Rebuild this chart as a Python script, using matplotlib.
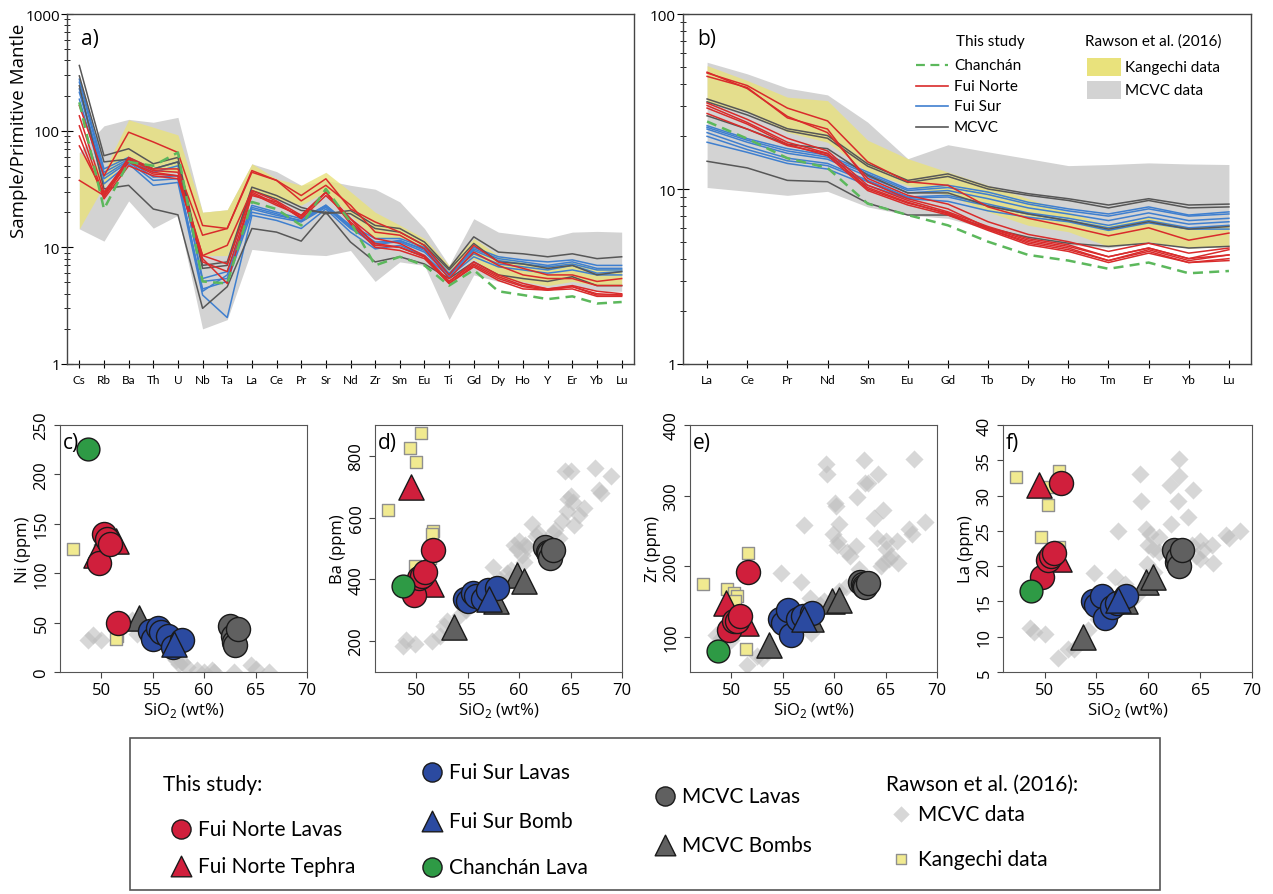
import numpy as np
import matplotlib
matplotlib.use("Agg")
import matplotlib.pyplot as plt
from matplotlib.patches import Rectangle

plt.rcParams['font.family'] = ['Open Sans', 'DejaVu Sans']
plt.rcParams['mathtext.fontset'] = 'custom'
plt.rcParams['mathtext.rm'] = 'Open Sans'

# ---------------- spider diagram a) primitive mantle normalised ----------------
pm_elems = ['Cs', 'Rb', 'Ba', 'Th', 'U', 'Nb', 'Ta', 'La', 'Ce', 'Pr', 'Sr', 'Nd',
            'Zr', 'Sm', 'Eu', 'Ti', 'Gd', 'Dy', 'Ho', 'Y', 'Er', 'Yb', 'Lu']

pm_mcvc_hi = [65, 110, 125, 118, 130, 20, 21, 52, 44.6, 34, 37.5, 34, 31.5, 24.5, 14.5, 7, 17.6, 13.5, 12.7, 12, 13.5, 13.7, 13.5]
pm_mcvc_lo = [14.4, 11.3, 25, 14.6, 18.8, 2, 2.4, 9.6, 9.1, 8.7, 8.5, 9.4, 5.1, 7.5, 7, 2.4, 5.8, 5.1, 4.7, 4.4, 4.7, 4.2, 4.2]
pm_kan_hi = [65, 45, 124, 107, 92, 20, 21, 52, 38.7, 34, 44, 30, 20, 15.5, 11.9, 7, 11.9, 8.5, 7.5, 7, 7.5, 6.6, 6.6]
pm_kan_lo = [14.4, 34, 61, 44, 44, 8.5, 8.5, 30, 26, 23, 30, 18.8, 11.9, 11.9, 9.7, 6.2, 8, 5.4, 5.1, 4.7, 5.1, 4.7, 4.7]

pm_chanchan = [175, 21.3, 54, 50, 65, 5.1, 4.9, 24.5, 21.3, 15.4, 31.7, 16.5, 7, 8.3, 7, 4.7, 6.4, 4.2, 3.9, 3.6, 3.8, 3.3, 3.4]

pm_norte = [
    [164, 41, 97, 80, 65, 15.4, 14.5, 45.5, 37.5, 27.8, 38.7, 21.3, 16.5, 13.5, 10.4, 5.8, 10.4, 7.5, 6.6, 5.8, 5.8, 5.1, 5.4],
    [37.5, 27.8, 59, 47, 47, 12.7, 14.5, 44, 37.5, 25, 34, 23, 13.5, 12.7, 9.7, 5.4, 9.1, 7, 5.8, 5.4, 5.4, 4.7, 4.7],
    [134, 29.7, 57, 45.5, 44, 8.5, 10.4, 30.7, 25, 18.8, 29.7, 17.6, 11.9, 10.8, 8.5, 5.1, 7.5, 5.8, 4.9, 4.4, 4.7, 4.2, 4.0],
    [110, 27, 54, 42.5, 41, 8.5, 7.2, 29.7, 23.6, 18.1, 29.7, 16.5, 10.8, 10, 8.3, 4.9, 7, 5.4, 4.6, 4.3, 4.6, 3.9, 3.9],
    [90, 26, 50, 41, 38.7, 8, 4.9, 28.8, 22.9, 18.8, 29.7, 15.9, 10, 9.4, 8, 4.9, 6.8, 5.2, 4.4, 4.3, 4.4, 3.8, 3.8],
    [74, 28.8, 54, 44, 41, 7.5, 6.2, 27.8, 24.5, 17.6, 27.8, 17.6, 10.4, 10, 8.3, 5.1, 7.2, 5.6, 4.7, 4.4, 4.6, 4.0, 3.9],
]
pm_sur = [
    [260, 44, 57, 44, 50, 5.4, 6.2, 22.9, 20, 17.6, 22.9, 15.4, 11.9, 11.9, 10, 6, 9.7, 8, 7.5, 7, 7.5, 6.6, 6.6],
    [213, 38.7, 54, 37.5, 38.7, 4.4, 5.1, 20, 18.1, 16.5, 22, 14.5, 10.8, 11.1, 9.1, 5.8, 8.8, 7.2, 6.8, 6.4, 7, 6, 6.2],
    [186, 35, 52, 34, 36, 3.9, 2.5, 18.8, 17, 14.5, 21.3, 13.5, 9.7, 10.4, 8.5, 5.6, 8.3, 6.8, 6.4, 6, 6.4, 5.8, 5.8],
    [228, 41, 55.5, 40, 41, 4.2, 5.8, 21.3, 18.8, 17, 22.5, 14.9, 10.4, 11.5, 9.4, 5.8, 9.4, 7.7, 7.2, 6.8, 7.2, 6.4, 6.4],
    [276, 47, 59, 47, 54, 5.1, 5.4, 22, 19.4, 16.7, 23, 15.2, 11.1, 11.3, 9.7, 5.9, 10, 8.3, 7.8, 7.5, 7.8, 7, 7],
]
pm_mcvc = [
    [362, 61, 70, 52, 59, 7, 7.5, 32.8, 27.8, 22, 19.4, 20.7, 15.4, 14.5, 11.1, 6.6, 12.3, 9.1, 8.8, 8.3, 8.8, 8, 8.3],
    [295, 54, 57, 47, 54, 6.6, 7, 30.7, 26, 20.7, 20, 19.4, 14.5, 13.5, 10.4, 6.4, 10.8, 7.5, 7.2, 6.6, 7, 5.8, 6.2],
    [243, 31.7, 34, 21.3, 19, 3, 4.6, 14.5, 13.5, 11.3, 20, 11.1, 7.5, 8.3, 7.2, 5.4, 7.5, 5.8, 5.4, 5.1, 5.6, 4.7, 4.7],
]

# ---------------- REE diagram b) ----------------
ree_elems = ['La', 'Ce', 'Pr', 'Nd', 'Sm', 'Eu', 'Gd', 'Tb', 'Dy', 'Ho', 'Tm', 'Er', 'Yb', 'Lu']

ree_mcvc_hi = [53, 45.5, 37.7, 34.5, 24.1, 14.9, 17.9, 16.3, 14.9, 13.6, 13.8, 14.1, 13.9, 13.8]
ree_mcvc_lo = [10.2, 9.7, 9.2, 9.7, 7.9, 7.1, 6.8, 5.9, 5.2, 4.8, 4.6, 5.0, 4.6, 4.7]
ree_kan_hi = [50.7, 41.7, 33.5, 32, 19, 14.9, 12.5, 10.5, 8.8, 7.4, 6.2, 6.9, 6.0, 6.3]
ree_kan_lo = [31.3, 27.5, 21.1, 18.5, 12.5, 10.5, 9.2, 7.4, 6.2, 5.7, 4.7, 5.0, 4.6, 4.7]

ree_chanchan = [24.3, 19.4, 15.0, 13.2, 8.25, 7.1, 6.2, 5.0, 4.2, 3.9, 3.5, 3.8, 3.3, 3.4]

ree_norte = [
    [46, 39, 29, 24.5, 14.3, 11, 10.5, 7.9, 6.8, 6.1, 5.4, 6.0, 5.1, 5.6],
    [46.5, 37.5, 26, 21, 11.5, 9.2, 8.2, 6.5, 5.5, 5.0, 4.4, 4.9, 4.3, 4.6],
    [44, 38, 25.5, 22, 11, 8.8, 7.7, 6.0, 5.1, 4.7, 4.1, 4.6, 4.0, 4.2],
    [31, 25, 19.5, 16.5, 10.5, 8.6, 7.4, 6.1, 5.2, 4.8, 4.1, 4.6, 4.0, 4.5],
    [30, 24, 18.5, 16, 10, 8.3, 7.3, 5.9, 5.0, 4.6, 3.9, 4.5, 3.9, 4.2],
    [29, 23.5, 18, 15.5, 9.8, 8.1, 7.1, 5.8, 4.8, 4.4, 3.8, 4.3, 3.8, 3.9],
    [27, 22, 17.7, 15.9, 10.2, 8.4, 7.2, 5.9, 4.9, 4.5, 3.9, 4.4, 3.8, 4.0],
]
ree_sur = [
    [23, 19.4, 17, 15.6, 12.5, 10, 10.5, 9.6, 8.4, 7.7, 7.2, 7.9, 7.1, 7.4],
    [22, 18.5, 16, 14.8, 11.8, 9.5, 9.8, 8.8, 7.8, 7.2, 6.6, 7.3, 6.6, 6.8],
    [21, 17.5, 15, 14, 11.2, 9.0, 9.2, 8.2, 7.3, 6.8, 6.2, 6.9, 6.3, 6.5],
    [20, 16.8, 14.5, 13.6, 11, 8.9, 9.0, 8.0, 7.2, 6.6, 6.0, 6.6, 6.0, 6.2],
    [18.5, 16.2, 14, 13, 10.5, 8.8, 8.5, 7.5, 6.9, 6.5, 5.8, 6.4, 5.9, 5.9],
    [22.5, 19, 16.5, 15.2, 12.2, 9.8, 10.2, 9.3, 8.2, 7.5, 7.0, 7.7, 7.0, 7.2],
]
ree_mcvc = [
    [32.7, 27.5, 22.1, 20.2, 13.9, 11.2, 12.2, 10.3, 9.4, 8.8, 8.1, 8.8, 8.1, 8.2],
    [31.5, 26.5, 21.5, 19.5, 13.5, 10.9, 11.8, 10.0, 9.2, 8.6, 7.8, 8.6, 7.8, 7.9],
    [26.2, 22, 18, 17, 12, 9.5, 9.5, 8, 7.2, 6.6, 5.9, 6.5, 5.9, 6.1],
    [14.4, 13.2, 11.2, 11.0, 8.3, 7.1, 7.1, 6.0, 5.3, 4.9, 4.7, 4.9, 4.6, 4.7],
]

# ---------------- Harker diagrams c)-f) : this study ----------------
fn_lava_sio2 = [49.8, 50.3, 50.6, 50.9, 51.6]
fn_lava_ni = [110, 140, 135, 130, 50]
fn_lava_ba = [350, 405, 410, 425, 495]
fn_lava_zr = [110, 122, 122, 130, 192]
fn_lava_la = [18.5, 20.8, 21.5, 21.8, 31.8]

fn_teph_sio2 = [49.5, 51.4]
fn_teph_ni = [118, 133]
fn_teph_ba = [700, 385]
fn_teph_zr = [148, 120]
fn_teph_la = [31.5, 21.0]

fs_lava_sio2 = [54.7, 55.0, 55.5, 55.8, 56.5, 57.0, 57.9]
fs_lava_ni = [42, 33, 45, 40, 36, 25, 32]
fs_lava_ba = [338, 330, 355, 345, 335, 365, 372]
fs_lava_zr = [125, 120, 138, 103, 125, 130, 133]
fs_lava_la = [15.0, 14.5, 15.8, 12.7, 14.2, 14.8, 15.8]

fs_bomb_sio2 = [57.1]
fs_bomb_ni = [28]
fs_bomb_ba = [335]
fs_bomb_zr = [125]
fs_bomb_la = [15.2]

ch_lava_sio2 = [48.7]
ch_lava_ni = [226]
ch_lava_ba = [380]
ch_lava_zr = [80]
ch_lava_la = [16.5]

mc_lava_sio2 = [62.5, 62.8, 62.9, 63.0, 63.3]
mc_lava_ni = [47, 36, 30, 27, 44]
mc_lava_ba = [505, 490, 485, 470, 495]
mc_lava_zr = [178, 175, 172, 170, 176]
mc_lava_la = [22.3, 20.6, 21.2, 20.0, 22.3]

mc_bomb_sio2 = [53.7, 57.8, 59.8, 60.5]
mc_bomb_ni = [55, np.nan, np.nan, np.nan]
mc_bomb_ba = [245, 330, 415, 395]
mc_bomb_zr = [88, 125, 150, 152]
mc_bomb_la = [10.0, 15.0, 17.8, 18.5]

# ---------------- Rawson et al. (2016) ----------------
kan_ni_x = [47.3, 51.5, 51.4, 49.9]
kan_ni_y = [125, 36, 33, 123]
kan_ba_x = [47.3, 49.4, 50.5, 50.0, 51.6, 51.5, 51.3, 49.9]
kan_ba_y = [625, 825, 875, 780, 558, 548, 470, 442]
kan_zr_x = [47.3, 49.6, 50.3, 50.6, 50.4, 51.6, 51.4]
kan_zr_y = [175, 167, 162, 158, 150, 218, 83]
kan_la_x = [47.3, 49.7, 50.3, 50.4, 51.4, 51.4]
kan_la_y = [32.6, 24.2, 28.6, 31.2, 33.5, 22.7]

raw_ni_x = [48.7, 49.2, 50.0, 53.0, 53.5, 56.8, 57.0, 57.3, 57.6, 57.9, 58.3, 59.3, 60.0, 60.8, 61.0, 62.9, 64.6, 65.0, 66.3]
raw_ni_y = [32, 37, 32, 53, 38, 18, 20, 12, 8, 10, 5, 2, 0, 2, 0, 0, 7, 3, 0]
raw_ba_x = [48.7, 49.0, 49.9, 51.5, 52.3, 52.7, 53.0, 54.3, 54.8, 55.5, 56.5, 57.3, 57.5, 58.0, 58.8, 59.0,
            59.2, 59.5, 59.8, 60.0, 60.3, 60.5, 60.6, 60.8, 61.3, 61.6, 61.8, 62.2, 63.3, 63.5, 63.9, 64.2,
            64.5, 64.7, 64.8, 65.0, 65.0, 65.2, 65.3, 65.8, 66.3, 67.4, 67.8, 68.0, 68.9]
raw_ba_y = [185, 205, 190, 200, 215, 250, 265, 285, 300, 320, 345, 380, 440, 400, 420, 400,
            430, 510, 500, 525, 480, 455, 510, 505, 580, 540, 550, 520, 550, 560, 535, 590,
            750, 620, 660, 670, 750, 650, 575, 610, 630, 760, 690, 680, 735]
raw_zr_x = [48.5, 49.0, 50.0, 51.5, 52.5, 53.0, 53.5, 54.8, 56.0, 56.8, 57.1, 57.7, 57.8, 58.2, 58.6, 59.0,
            59.2, 59.3, 59.9, 60.1, 60.2, 60.3, 60.4, 60.5, 60.5, 61.2, 61.3, 61.5, 62.1, 62.2, 62.4, 62.9,
            63.0, 63.2, 63.3, 63.9, 64.2, 64.3, 64.6, 64.8, 64.8, 65.0, 65.0, 65.3, 65.5, 66.1, 66.2, 67.3,
            67.6, 67.8, 68.8]
raw_zr_y = [102, 98, 95, 60, 72, 70, 80, 190, 120, 178, 258, 155, 105, 135, 145, 150,
            345, 330, 245, 290, 285, 230, 235, 260, 165, 170, 220, 215, 228, 298, 196, 350,
            318, 180, 318, 268, 240, 330, 200, 280, 205, 235, 225, 210, 215, 235, 205, 252,
            245, 352, 262]
raw_la_x = [48.6, 49.0, 50.0, 51.3, 52.3, 52.8, 54.2, 54.8, 55.2, 56.8, 57.1, 57.8, 58.3, 59.0, 59.2, 59.3,
            59.8, 59.9, 60.0, 60.2, 60.5, 60.6, 61.0, 61.0, 62.1, 62.2, 62.2, 62.9, 63.0, 63.0, 63.8, 64.2,
            64.3, 64.6, 65.0, 65.0, 65.3, 66.1, 66.2, 67.5, 67.8, 68.8]
raw_la_y = [11.2, 10.6, 10.4, 7.0, 8.3, 8.2, 11.0, 19.0, 12.5, 18.5, 25.0, 17.5, 15.0, 16.0, 33.0, 29.3,
            25.2, 20.3, 23.0, 24.5, 22.5, 19.2, 24.2, 22.0, 31.5, 26.0, 22.0, 29.2, 35.2, 32.8, 27.0, 23.0,
            30.8, 21.5, 23.5, 21.0, 22.3, 23.0, 20.5, 24.4, 24.0, 25.0]

# ---------------- colours ----------------
c_red_line = '#d92b2b'
c_blue_line = '#3f7fcf'
c_grey_line = '#575757'
c_green_line = '#5cb85c'
c_fill_grey = '#d3d3d3'
c_fill_yel = '#e9e27c'

c_red = '#d01f3c'
c_blue = '#2b4aa0'
c_green = '#2e9a45'
c_grey = '#606060'
c_kan = '#f1ea90'
c_raw = '#bdbdbd'

W, H = 1273, 895
fig = plt.figure(figsize=(W / 100, H / 100), dpi=100)


def px_axes(left, right, top, bottom):
    return fig.add_axes([left / W, 1 - bottom / H, (right - left) / W, (bottom - top) / H])


def spider(ax, elems, kan_hi, kan_lo, mc_hi, mc_lo, sur, mcvc, norte, chan):
    x = np.arange(len(elems))
    ax.fill_between(x, mc_lo, mc_hi, color=c_fill_grey, lw=0, zorder=1)
    ax.fill_between(x, kan_lo, kan_hi, color=c_fill_yel, alpha=0.8, lw=0, zorder=2)
    for s in sur:
        ax.plot(x, s, color=c_blue_line, lw=1.1, zorder=3)
    for s in mcvc:
        ax.plot(x, s, color=c_grey_line, lw=1.1, zorder=4)
    for s in norte:
        ax.plot(x, s, color=c_red_line, lw=1.1, zorder=5)
    ax.plot(x, chan, color=c_green_line, lw=1.8, ls=(0, (4, 2.5)), zorder=6)
    ax.set_yscale('log')
    ax.set_xticks(x)
    ax.set_xticklabels(elems, fontsize=8.5, family=['Lato', 'DejaVu Sans'])
    ax.tick_params(axis='x', direction='inout', length=6, pad=4)
    ax.tick_params(axis='y', which='major', direction='inout', length=8, labelsize=11, pad=1)
    ax.tick_params(axis='y', which='minor', direction='inout', length=4)
    ax.yaxis.set_major_formatter(matplotlib.ticker.FuncFormatter(lambda v, p: f'{v:g}'))
    for sp in ax.spines.values():
        sp.set_color('#444444')
        sp.set_linewidth(1.0)


# a)
ax_a = px_axes(67, 634, 15, 365)
spider(ax_a, pm_elems, pm_kan_hi, pm_kan_lo, pm_mcvc_hi, pm_mcvc_lo, pm_sur, pm_mcvc, pm_norte, pm_chanchan)
ax_a.set_xlim(-0.5, 22.5)
ax_a.set_ylim(1, 1000)
ax_a.set_ylabel('Sample/Primitive Mantle', fontsize=13.5)
ax_a.yaxis.set_label_coords(-0.068, 0.67)
ax_a.text(0.025, 0.96, 'a)', transform=ax_a.transAxes, fontsize=15, va='top')

# b)
ax_b = px_axes(683, 1251, 15, 365)
spider(ax_b, ree_elems, ree_kan_hi, ree_kan_lo, ree_mcvc_hi, ree_mcvc_lo, ree_sur, ree_mcvc, ree_norte, ree_chanchan)
ax_b.set_xlim(-0.6, 13.55)
ax_b.set_ylim(1, 100)
ax_b.text(0.025, 0.96, 'b)', transform=ax_b.transAxes, fontsize=15, va='top')

# legend of b) drawn in axes fraction
lf = dict(fontsize=11, family=['Lato', 'DejaVu Sans'], va='center', transform=ax_b.transAxes)
def bx(px):
    return (px - 683) / 568
def by(py):
    return (365 - py) / 350
ax_b.text(bx(956), by(42), 'This study', **lf)
leg_lines = [('Chanchán', c_green_line, (0, (4, 2.5)), 1.6),
             ('Fui Norte', c_red_line, '-', 1.2),
             ('Fui Sur', c_blue_line, '-', 1.2),
             ('MCVC', c_grey_line, '-', 1.2)]
for i, (lab, col, ls, lw) in enumerate(leg_lines):
    yy = by(66 + i * 20.5)
    ax_b.plot([bx(916), bx(948)], [yy, yy], color=col, ls=ls, lw=lw, transform=ax_b.transAxes, zorder=7)
    ax_b.text(bx(954), yy, lab, **lf)
ax_b.text(bx(1085), by(42), 'Rawson et al. (2016)', **lf)
for i, (lab, col) in enumerate([('Kangechi data', c_fill_yel), ('MCVC data', c_fill_grey)]):
    yc = 68 + i * 23
    ax_b.add_patch(Rectangle((bx(1087), by(yc + 9)), bx(1121) - bx(1087), by(yc - 9) - by(yc + 9),
                             transform=ax_b.transAxes, color=col, lw=0, zorder=7))
    ax_b.text(bx(1125), by(yc), lab, **lf)


# ---------------- Harker panels ----------------
def harker(ax, key, ylim, yticks, ylabel, label, kx, ky, rx, ry):
    ax.scatter(rx, ry, marker='D', s=85, color=c_raw, alpha=0.6, lw=0, zorder=1)
    ax.scatter(kx, ky, marker='s', s=70, color=c_kan, edgecolor='#8f8f8f', lw=1, zorder=2)
    groups = [
        (mc_lava_sio2, globals()['mc_lava_' + key], 'o', c_grey, 300),
        (mc_bomb_sio2, globals()['mc_bomb_' + key], '^', c_grey, 330),
        (fs_lava_sio2, globals()['fs_lava_' + key], 'o', c_blue, 300),
        (fs_bomb_sio2, globals()['fs_bomb_' + key], '^', c_blue, 330),
        (fn_teph_sio2, globals()['fn_teph_' + key], '^', c_red, 330),
        (fn_lava_sio2, globals()['fn_lava_' + key], 'o', c_red, 300),
        (ch_lava_sio2, globals()['ch_lava_' + key], 'o', c_green, 270),
    ]
    for i, (xs, ys, m, col, s) in enumerate(groups):
        ax.scatter(xs, ys, marker=m, s=s, color=col, edgecolor='#1a1a1a', lw=1.0, zorder=3 + i)
    ax.set_xlim(46, 70)
    ax.set_ylim(*ylim)
    ax.set_xticks([50, 55, 60, 65, 70])
    ax.set_yticks(yticks)
    ax.tick_params(labelsize=12, length=4, color='#444444')
    for t in ax.get_yticklabels():
        t.set_rotation(90)
        t.set_va('center')
    ax.set_ylabel(ylabel, fontsize=12, labelpad=2)
    ax.set_xlabel('SiO$_2$ (wt%)', fontsize=12, labelpad=1)
    for sp in ax.spines.values():
        sp.set_color('#555555')
    ax.text(0.01, 0.97, label, transform=ax.transAxes, fontsize=15, va='top')


ax_c = px_axes(60, 307, 426, 673)
harker(ax_c, 'ni', (0, 250), [0, 50, 100, 150, 200, 250], 'Ni (ppm)', 'c)', kan_ni_x, kan_ni_y, raw_ni_x, raw_ni_y)
ax_d = px_axes(375, 622, 426, 673)
harker(ax_d, 'ba', (100, 900), [200, 400, 600, 800], 'Ba (ppm)', 'd)', kan_ba_x, kan_ba_y, raw_ba_x, raw_ba_y)
ax_e = px_axes(690, 937, 426, 673)
harker(ax_e, 'zr', (50, 400), [100, 200, 300, 400], 'Zr (ppm)', 'e)', kan_zr_x, kan_zr_y, raw_zr_x, raw_zr_y)
ax_f = px_axes(1003, 1252, 426, 673)
harker(ax_f, 'la', (5, 40), [5, 10, 15, 20, 25, 30, 35, 40], 'La (ppm)', 'f)', kan_la_x, kan_la_y, raw_la_x, raw_la_y)

# ---------------- bottom legend box ----------------
lax = fig.add_axes([0, 0, 1, 1], zorder=10)
lax.set_xlim(0, W)
lax.set_ylim(H, 0)
lax.axis('off')
lax.add_patch(Rectangle((130, 739), 1030, 152, fill=False, edgecolor='#555555', lw=1.2))
tf = dict(fontsize=15, family=['Lato', 'DejaVu Sans'], va='center')
lax.text(163, 785, 'This study:', **tf)
lax.text(886, 785, 'Rawson et al. (2016):', **tf)
leg_items = [
    (181, 830, 'o', c_red, 'Fui Norte Lavas', 190),
    (181, 867, '^', c_red, 'Fui Norte Tephra', 220),
    (432, 773, 'o', c_blue, 'Fui Sur Lavas', 190),
    (432, 822, '^', c_blue, 'Fui Sur Bomb', 220),
    (432, 868, 'o', c_green, 'Chanchán Lava', 190),
    (665, 797, 'o', c_grey, 'MCVC Lavas', 190),
    (665, 846, '^', c_grey, 'MCVC Bombs', 220),
]
for x0, y0, m, col, lab, s in leg_items:
    lax.scatter([x0], [y0], marker=m, s=s, color=col, edgecolor='#1a1a1a', lw=1.0)
    lax.text(x0 + 17, y0, lab, **tf)
lax.scatter([901], [815], marker='D', s=70, color=c_raw, alpha=0.6, lw=0)
lax.text(918, 815, 'MCVC data', **tf)
lax.scatter([901], [860], marker='s', s=60, color=c_kan, edgecolor='#8f8f8f', lw=1)
lax.text(918, 860, 'Kangechi data', **tf)

fig.savefig('out.png', dpi=100)
